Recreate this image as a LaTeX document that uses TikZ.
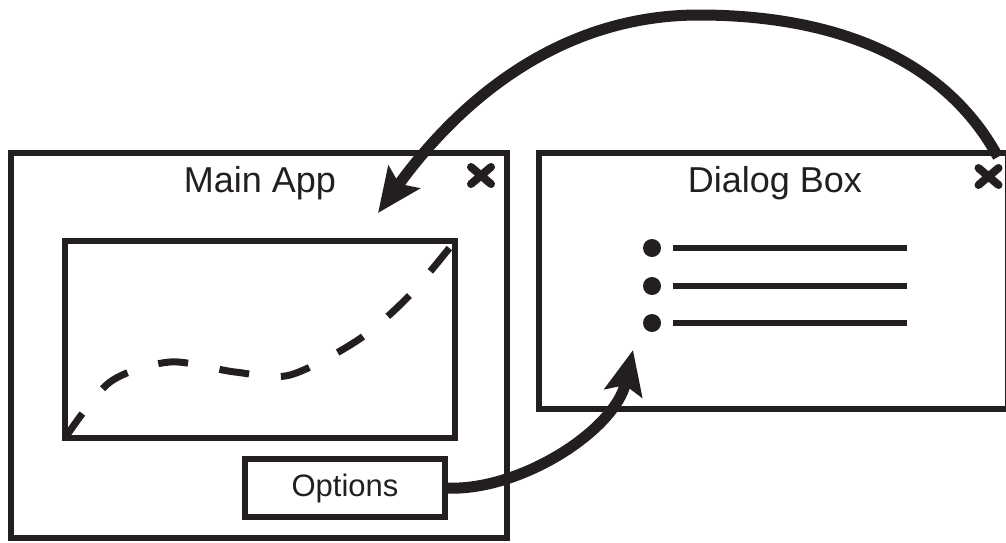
\documentclass[tikz,border=0pt]{standalone}
\usepackage{fontspec}
\setmainfont{Liberation Sans}
\usetikzlibrary{arrows.meta}
\definecolor{ink}{HTML}{231F20}
\begin{document}
\begin{tikzpicture}[x=1pt,y=-1pt,
  winframe/.style={draw=ink, line width=6pt, inner sep=0pt, outer sep=0pt},
  wintitle/.style={anchor=base, text=ink, font=\fontsize{36}{40}\selectfont, inner sep=0pt},
  xmark/.style={draw=ink, line width=8pt, line cap=round},
  bigarrow/.style={draw=ink, line width=11pt, -{Stealth[length=44pt,width=38pt,inset=8pt]}},
  bulletdot/.style={circle, fill=ink, minimum size=18pt, inner sep=0pt},
  listline/.style={draw=ink, line width=6pt},
  plotcurve/.style={draw=ink, line width=7pt, dash pattern=on 30pt off 32pt}
]
\useasboundingbox (0,0) rectangle (1006,542);

% windows
\node[winframe, minimum width=496pt, minimum height=385pt] (main) at (259,345.5) {};
\node[winframe, minimum width=469pt, minimum height=256pt] (dialog) at (773.5,281) {};
\node[winframe, minimum width=390pt, minimum height=197pt] (plot) at (260,339.5) {};
\node[winframe, minimum width=200pt, minimum height=58pt, text=ink,
      font=\fontsize{31}{34}\selectfont] (options) at (345,488) {Options};

% titles
\node[wintitle] (maintitle) at (260,192) {Main App};
\node[wintitle] (dialogtitle) at (775,192) {Dialog Box};

% close marks
\draw[xmark] (471,167) -- (491,184) (471,184) -- (491,167);
\draw[xmark] (978.5,168) -- (998.5,185) (978.5,185) -- (998.5,168);

% bullet list
\node[bulletdot] (b1) at (652,248) {};
\node[bulletdot] (b2) at (652,286) {};
\node[bulletdot] (b3) at (652,323) {};
\draw[listline] (673,248) -- (907,248);
\draw[listline] (673,286) -- (907,286);
\draw[listline] (673,323) -- (907,323);

% dashed plot
\draw[plotcurve] plot[smooth] coordinates {(plot.south west) (110,382) (170,362) (235,372) (290,375) (358,340) (408,297) (plot.north east)};

% connectors
\coordinate (arcstart) at (998,157);
\coordinate (bigtip) at (378,213);
\coordinate (smalltip) at (633,350);
\draw[bigarrow] (arcstart) .. controls (940,50) and (820,15) .. (699,15)
                .. controls (560,15) and (460,100) .. (bigtip);
\draw[bigarrow] (options.east) .. controls (520,492) and (615,430) .. (smalltip);
\end{tikzpicture}
\end{document}
